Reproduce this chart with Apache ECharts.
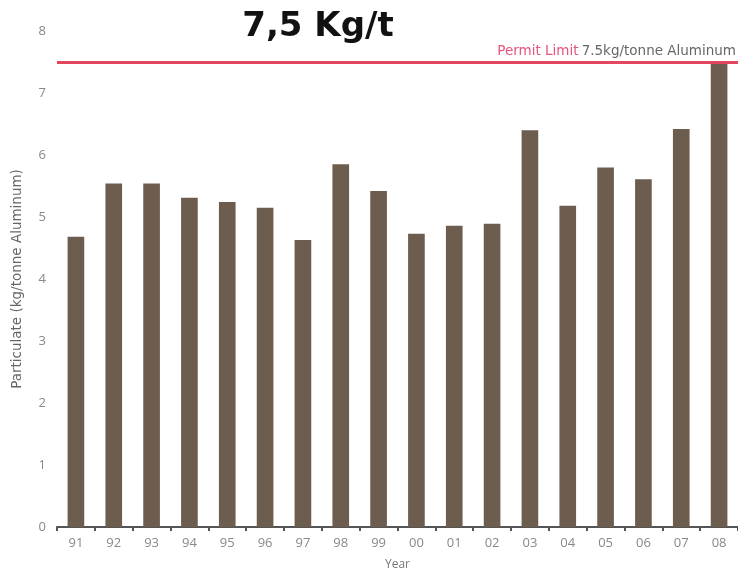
<!DOCTYPE html>
<html>
<head>
<meta charset="utf-8">
<script src="https://cdn.jsdelivr.net/npm/echarts@6/dist/echarts.min.js"></script>
<style>
  html, body { margin: 0; padding: 0; background: #fff; }
  #chart { width: 738px; height: 570px; }
</style>
</head>
<body>
<div id="chart"></div>
<script>
// Particulate emissions per year (kg per tonne of aluminum)
const years = ['91','92','93','94','95','96','97','98','99','00','01','02','03','04','05','06','07','08'];
const particulate = [4.68, 5.54, 5.54, 5.31, 5.24, 5.15, 4.63, 5.85, 5.42, 4.73, 4.86, 4.89, 6.40, 5.18, 5.80, 5.61, 6.42, 7.5];
const permitLimit = 7.5;
const yTicks = [0, 1, 2, 3, 4, 5, 6, 7, 8];

const chart = echarts.init(document.getElementById('chart'));
chart.setOption({
  animation: false,
  backgroundColor: '#fff',
  textStyle: { fontFamily: 'Open Sans, sans-serif' },
  title: {
    text: '7,5 Kg/t',
    left: 313,
    top: 5,
    textAlign: 'center',
    textStyle: { fontFamily: 'DejaVu Sans', fontWeight: 'bold', fontSize: 34, color: '#111' }
  },
  grid: { left: 57, right: 0, top: 31, bottom: 43, outerBoundsMode: 'none', containLabel: false },
  xAxis: {
    type: 'category',
    data: years,
    name: 'Year',
    nameLocation: 'middle',
    nameGap: 32,
    nameTextStyle: { color: '#777', fontSize: 12 },
    axisLine: { show: true, lineStyle: { color: '#555', width: 2 } },
    axisTick: { show: true, alignWithLabel: false, length: 4, lineStyle: { color: '#555', width: 2 } },
    axisLabel: { color: '#888', fontSize: 13, margin: 10 }
  },
  yAxis: {
    type: 'value',
    min: yTicks[0],
    max: yTicks[yTicks.length - 1],
    interval: 1,
    name: 'Particulate (kg/tonne Aluminum)',
    nameLocation: 'middle',
    nameGap: 33,
    nameTextStyle: { color: '#666', fontSize: 13.5, fontFamily: 'DejaVu Sans' },
    axisLine: { show: false },
    axisTick: { show: false },
    splitLine: { show: false },
    axisLabel: { color: '#888', fontSize: 13, margin: 11 }
  },
  series: [{
    type: 'bar',
    data: particulate,
    barWidth: '44%',
    itemStyle: { color: '#6d5d4f' },
    markLine: {
      silent: true,
      symbol: 'none',
      lineStyle: { color: '#e2475f', width: 3, type: 'solid' },
      label: {
        show: true,
        position: 'insideEndTop',
        distance: [2, 4],
        formatter: '{a|Permit Limit} {b|7.5kg/tonne Aluminum}',
        rich: {
          a: { color: '#e8557a', fontSize: 13.5, fontFamily: 'DejaVu Sans' },
          b: { color: '#666', fontSize: 13.5, fontFamily: 'DejaVu Sans' }
        }
      },
      data: [{ yAxis: permitLimit }]
    }
  }]
});
</script>
</body>
</html>
